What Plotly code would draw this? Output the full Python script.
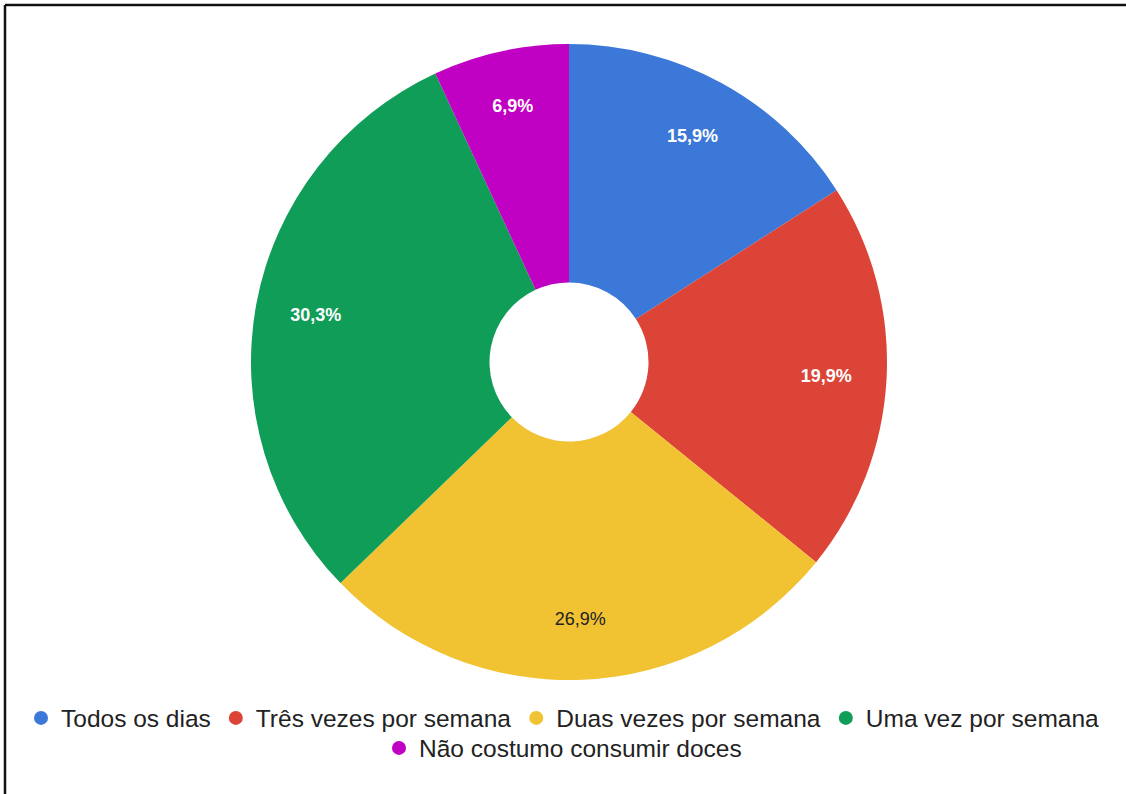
import plotly.graph_objects as go

# Frequency of sweets consumption (share of respondents, %)
categories = [
    "Todos os dias",
    "Três vezes por semana",
    "Duas vezes por semana",
    "Uma vez por semana",
    "Não costumo consumir doces",
]
values = [15.9, 19.9, 26.9, 30.3, 6.9]

colors = ["#3C78D8", "#DB4437", "#F1C232", "#0F9D58", "#C000C3"]
label_colors = ["#FFFFFF", "#FFFFFF", "#222222", "#FFFFFF", "#FFFFFF"]
label_weights = ["bold", "bold", "normal", "bold", "bold"]
legend_rows = ["legend", "legend", "legend", "legend", "legend2"]

W, H = 1126, 794
cx, cy, r = 569, 362, 318
dom_x = [(cx - r) / W, (cx + r) / W]
dom_y = [1 - (cy + r) / H, 1 - (cy - r) / H]

fig = go.Figure()

# Donut slices
fig.add_trace(go.Pie(
    labels=categories,
    values=values,
    sort=False,
    direction="clockwise",
    rotation=0,
    hole=0.25,
    domain=dict(x=dom_x, y=dom_y),
    marker=dict(colors=colors, line=dict(width=0)),
    textinfo="none",
    showlegend=False,
    hoverinfo="label+percent",
))

# Transparent ring used only to place the percentage labels further out
fig.add_trace(go.Pie(
    labels=categories,
    values=values,
    sort=False,
    direction="clockwise",
    rotation=0,
    hole=0.62,
    domain=dict(x=dom_x, y=dom_y),
    marker=dict(colors=["rgba(0,0,0,0)"] * len(values), line=dict(width=0)),
    texttemplate="%{value:.1f}%",
    textposition="inside",
    insidetextorientation="horizontal",
    textfont=dict(family="Arial, Liberation Sans", size=18,
                  color=label_colors, weight=label_weights),
    showlegend=False,
    hoverinfo="skip",
))

# Circle markers for the legend (two centred rows)
for name, col, lg in zip(categories, colors, legend_rows):
    fig.add_trace(go.Scatter(
        x=[None], y=[None], mode="markers", name=name,
        marker=dict(symbol="circle", size=14, color=col),
        showlegend=True, hoverinfo="skip", legend=lg,
    ))

legend_font = dict(family="Arial, Liberation Sans", size=24.5, color="#222222")

fig.update_layout(
    width=W,
    height=H,
    margin=dict(l=0, r=0, t=0, b=0),
    paper_bgcolor="white",
    plot_bgcolor="white",
    separators=",.",
    xaxis=dict(visible=False),
    yaxis=dict(visible=False),
    legend=dict(
        orientation="h",
        x=0.5, xanchor="center",
        y=1 - 718 / H, yanchor="middle",
        font=legend_font,
        bgcolor="rgba(0,0,0,0)",
    ),
    legend2=dict(
        orientation="h",
        x=0.5, xanchor="center",
        y=1 - 748 / H, yanchor="middle",
        font=legend_font,
        bgcolor="rgba(0,0,0,0)",
    ),
    shapes=[
        dict(type="line", xref="paper", yref="paper",
             x0=5 / W, x1=1, y0=1 - 5 / H, y1=1 - 5 / H,
             line=dict(color="#111111", width=2.5)),
        dict(type="line", xref="paper", yref="paper",
             x0=5 / W, x1=5 / W, y0=0, y1=1 - 5 / H,
             line=dict(color="#111111", width=2.5)),
    ],
)

fig.write_html("out.html")
